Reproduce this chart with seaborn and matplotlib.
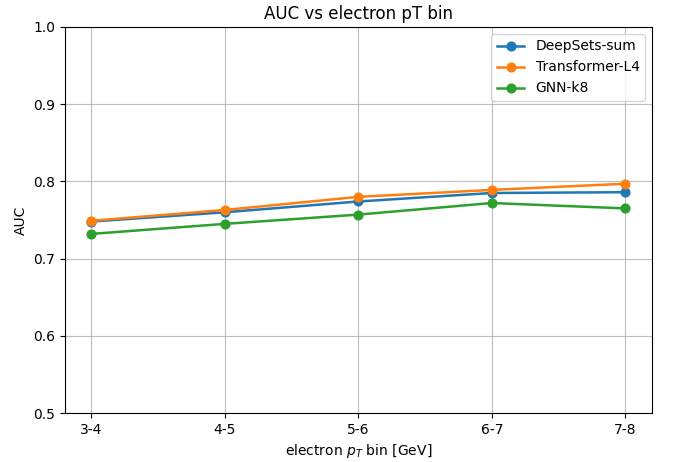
import numpy as np
import pandas as pd
import matplotlib
matplotlib.use("Agg")
import matplotlib.pyplot as plt
import seaborn as sns

# pT bins and AUC per model
bins = ["3-4", "4-5", "5-6", "6-7", "7-8"]
deepsets_sum = [0.748, 0.760, 0.774, 0.785, 0.786]
transformer_l4 = [0.749, 0.763, 0.780, 0.789, 0.797]
gnn_k8 = [0.732, 0.745, 0.757, 0.772, 0.765]

models = ["DeepSets-sum", "Transformer-L4", "GNN-k8"]
values = [deepsets_sum, transformer_l4, gnn_k8]

df = pd.DataFrame({
    "bin": bins * len(models),
    "model": np.repeat(models, len(bins)),
    "auc": np.concatenate(values),
})

fig, ax = plt.subplots(figsize=(6.76, 4.62), dpi=100)
fig.subplots_adjust(left=0.0957, right=0.9645, top=0.9416, bottom=0.106)

palette = ["#1f77b4", "#ff7f0e", "#2ca02c"]
sns.lineplot(data=df, x="bin", y="auc", hue="model", hue_order=models,
             palette=palette, marker="o", markersize=7.3, markeredgewidth=0,
             linewidth=1.8, sort=False, ax=ax)

ax.set_ylim(0.5, 1.0)
ax.set_xlim(-0.2, 4.2)
ax.grid(True, color="#b0b0b0", linewidth=0.8, alpha=0.8)
ax.set_axisbelow(True)
ax.set_title("AUC vs electron pT bin")
ax.set_xlabel("electron $p_T$ bin [GeV]")
ax.set_ylabel("AUC")
ax.legend(loc="upper right")

fig.savefig("out.png", dpi=100)
